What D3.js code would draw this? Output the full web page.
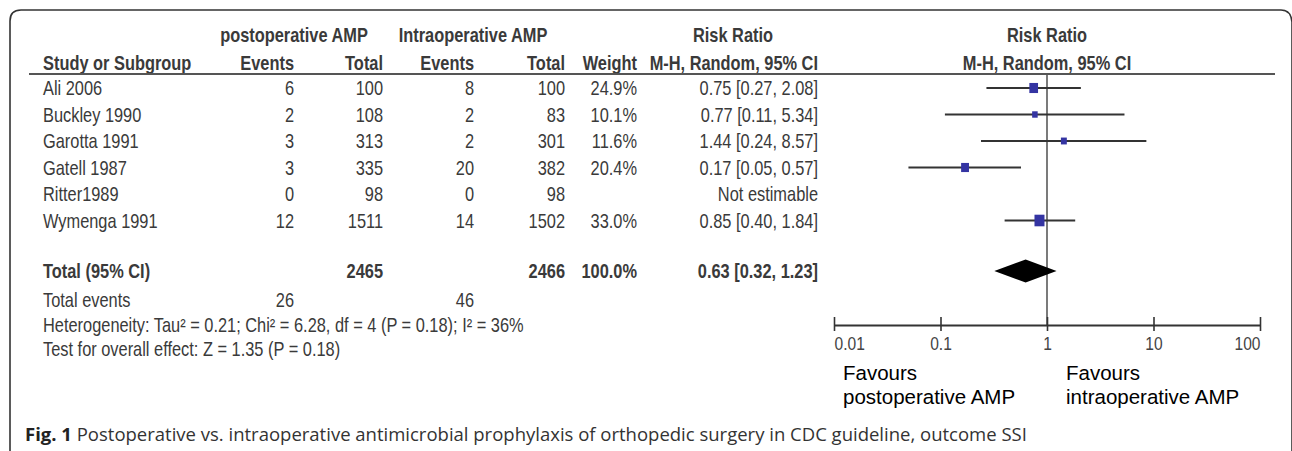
<!DOCTYPE html>
<html>
<head>
<meta charset="utf-8">
<script src="https://cdn.jsdelivr.net/npm/d3@7"></script>
<style>
  body { margin: 0; background: #fff; }
  .tbl { font-family: "Liberation Sans", Arial, sans-serif; font-size: 20px; fill: #3a3a3a; }
  .hdr { font-weight: bold; }
</style>
</head>
<body>
<script>
var width = 1292;
var height = 451;
var narrow = 0.82; // squeeze Liberation Sans to look like Arial Narrow

// study rows
var studies = ["Ali 2006", "Buckley 1990", "Garotta 1991", "Gatell 1987", "Ritter1989", "Wymenga 1991"];
var postEvents = [6, 2, 3, 3, 0, 12];
var postTotal = [100, 108, 313, 335, 98, 1511];
var intraEvents = [8, 2, 2, 20, 0, 14];
var intraTotal = [100, 83, 301, 382, 98, 1502];
var weights = [24.9, 10.1, 11.6, 20.4, null, 33.0];
var rr = [0.75, 0.77, 1.44, 0.17, null, 0.85];
var ciLow = [0.27, 0.11, 0.24, 0.05, null, 0.40];
var ciHigh = [2.08, 5.34, 8.57, 0.57, null, 1.84];

// pooled result
var pooled = { rr: 0.63, lo: 0.32, hi: 1.23 };
var totals = { post: 2465, intra: 2466, weight: "100.0%", events: [26, 46] };
var bottomNotes = [
  "Heterogeneity: Tau\u00b2 = 0.21; Chi\u00b2 = 6.28, df = 4 (P = 0.18); I\u00b2 = 36%",
  "Test for overall effect: Z = 1.35 (P = 0.18)"
];

var tickValues = [0.01, 0.1, 1, 10, 100];
var tickLabels = ["0.01", "0.1", "1", "10", "100"];

var svg = d3.select("body").append("svg")
  .attr("width", width).attr("height", height);

// frame with rounded top corners
svg.append("path")
  .attr("d", "M10,460 L10,21 Q10,10 21,10 L1281,10 Q1291,10 1292,22 L1292,460")
  .style("fill", "none").style("stroke", "#333").style("stroke-width", 1.6);

var x = d3.scaleLog().domain([0.01, 100]).range([834, 1260]);
var y = d3.scaleLinear().domain([0, 5]).range([88, 220.5]);
var yTotal = 271;

// column right edges
var cols = { postE: 294, postT: 383, intraE: 474, intraT: 565, w: 637, ci: 818 };

function txt(xp, yp, s, anchor, cls) {
  return svg.append("text").attr("class", "tbl " + (cls || ""))
    .attr("transform", "translate(" + xp + "," + yp + ") scale(" + narrow + ",1)")
    .attr("dy", "0.35em")
    .attr("text-anchor", anchor || "start").text(s);
}

// headers
txt(294, 35, "postoperative AMP", "middle", "hdr");
txt(473, 35, "Intraoperative AMP", "middle", "hdr");
txt(733, 35, "Risk Ratio", "middle", "hdr");
txt(1047, 35, "Risk Ratio", "middle", "hdr");
txt(43, 63, "Study or Subgroup", "start", "hdr");
txt(cols.postE, 63, "Events", "end", "hdr");
txt(cols.postT, 63, "Total", "end", "hdr");
txt(cols.intraE, 63, "Events", "end", "hdr");
txt(cols.intraT, 63, "Total", "end", "hdr");
txt(cols.w, 63, "Weight", "end", "hdr");
txt(cols.ci, 63, "M-H, Random, 95% CI", "end", "hdr");
txt(1047, 63, "M-H, Random, 95% CI", "middle", "hdr");

svg.append("line").attr("x1", 29).attr("x2", 1275).attr("y1", 74).attr("y2", 74)
  .style("stroke", "#555").style("stroke-width", 2);

// study rows
studies.forEach(function (s, i) {
  var yy = y(i);
  txt(43, yy, s);
  txt(cols.postE, yy, postEvents[i], "end");
  txt(cols.postT, yy, postTotal[i], "end");
  txt(cols.intraE, yy, intraEvents[i], "end");
  txt(cols.intraT, yy, intraTotal[i], "end");
  if (weights[i] != null) {
    txt(cols.w, yy, weights[i].toFixed(1) + "%", "end");
    txt(cols.ci, yy, rr[i].toFixed(2) + " [" + ciLow[i].toFixed(2) + ", " + ciHigh[i].toFixed(2) + "]", "end");
  } else {
    txt(cols.ci, yy, "Not estimable", "end");
  }
});

// total rows
txt(43, yTotal, "Total (95% CI)", "start", "hdr");
txt(cols.postT, yTotal, totals.post, "end", "hdr");
txt(cols.intraT, yTotal, totals.intra, "end", "hdr");
txt(cols.w, yTotal, totals.weight, "end", "hdr");
txt(cols.ci, yTotal, pooled.rr.toFixed(2) + " [" + pooled.lo.toFixed(2) + ", " + pooled.hi.toFixed(2) + "]", "end", "hdr");

txt(43, 300, "Total events");
txt(cols.postE, 300, totals.events[0], "end");
txt(cols.intraE, 300, totals.events[1], "end");
txt(43, 325, bottomNotes[0]);
txt(43, 349, bottomNotes[1]);

// line of no effect
svg.append("line").attr("x1", x(1)).attr("x2", x(1)).attr("y1", 75).attr("y2", 325)
  .style("stroke", "#333").style("stroke-width", 1.3);

// CI lines and squares
var idx = d3.range(studies.length).filter(function (i) { return rr[i] != null; });
svg.selectAll("line.ci").data(idx).enter().append("line")
  .attr("class", "ci")
  .attr("x1", function (i) { return x(ciLow[i]); })
  .attr("x2", function (i) { return x(ciHigh[i]); })
  .attr("y1", function (i) { return y(i); })
  .attr("y2", function (i) { return y(i); })
  .style("stroke", "#333").style("stroke-width", 2);

var side = d3.scaleSqrt().domain([0, 33]).range([0, 10]);
svg.selectAll("rect.sq").data(idx).enter().append("rect")
  .attr("class", "sq")
  .attr("x", function (i) { return x(rr[i]) - side(weights[i]) / 2; })
  .attr("y", function (i) { return y(i) - side(weights[i]) * 0.58; })
  .attr("width", function (i) { return side(weights[i]); })
  .attr("height", function (i) { return side(weights[i]) * 1.16; })
  .style("fill", "#3434a2");

// pooled diamond
svg.append("path")
  .attr("d", "M" + x(pooled.lo) + "," + yTotal +
    "L" + x(pooled.rr) + "," + (yTotal - 11.5) +
    "L" + x(pooled.hi) + "," + yTotal +
    "L" + x(pooled.rr) + "," + (yTotal + 11.5) + "Z")
  .style("fill", "#000");

// axis
var axis = d3.axisBottom(x).tickValues(tickValues)
  .tickFormat(function (d, i) { return tickLabels[i]; })
  .tickSizeOuter(0);
var ax = svg.append("g").attr("transform", "translate(0,325)").call(axis);
ax.select(".domain").style("stroke", "#333").style("stroke-width", 2.2);
ax.selectAll(".tick line").attr("y1", -8).attr("y2", 6).style("stroke", "#333").style("stroke-width", 1.6);
ax.selectAll(".tick text")
  .attr("y", 0).attr("dy", "0.35em")
  .attr("transform", "translate(0,18) scale(" + narrow + ",1)")
  .style("font-family", "'Liberation Sans', Arial, sans-serif")
  .style("font-size", "19px").style("fill", "#444")
  .attr("text-anchor", function (d, i) { return i === 0 ? "start" : (i === tickValues.length - 1 ? "end" : "middle"); });

// favours labels
var fav = [["Favours", "postoperative AMP", 843], ["Favours", "intraoperative AMP", 1066]];
fav.forEach(function (f) {
  [f[0], f[1]].forEach(function (s, k) {
    svg.append("text").attr("x", f[2]).attr("y", 373 + k * 24).attr("dy", "0.35em")
      .style("font-family", "'Liberation Sans', Arial, sans-serif").style("font-size", "20.5px")
      .style("fill", "#000").text(s);
  });
});

// caption
var cap = svg.append("text").attr("x", 25).attr("y", 435).attr("dy", "0.35em")
  .style("font-family", "'Open Sans', sans-serif").style("font-size", "18.5px").style("fill", "#333");
cap.append("tspan").style("font-weight", "bold").style("fill", "#222").text("Fig. 1");
cap.append("tspan").text(" Postoperative vs. intraoperative antimicrobial prophylaxis of orthopedic surgery in CDC guideline, outcome SSI");
</script>
</body>
</html>
